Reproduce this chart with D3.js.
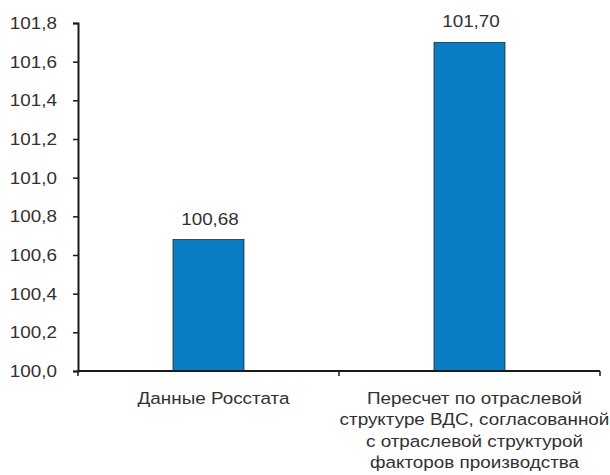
<!DOCTYPE html>
<html>
<head>
<meta charset="utf-8">
<script src="https://cdn.jsdelivr.net/npm/d3@7"></script>
<style>
  html, body { margin: 0; padding: 0; background: #fff; }
  svg { display: block; }
  svg text { font-family: "Liberation Sans", Arial, sans-serif; }
</style>
</head>
<body>
<svg id="chart" width="610" height="475"></svg>
<script>
// Chart data
const categories = [
  ["Данные Росстата"],
  ["Пересчет по отраслевой", "структуре ВДС, согласованной", "с отраслевой структурой", "факторов производства"]
];
const values = [100.68, 101.70];
const valueLabels = ["100,68", "101,70"];
const yTicks = [100.0, 100.2, 100.4, 100.6, 100.8, 101.0, 101.2, 101.4, 101.6, 101.8];

const svg = d3.select("#chart");
const margin = { left: 78, right: 10, top: 23, bottom: 104 };
const width = 610, height = 475;
const textColor = "#333031";
const fontSize = 17;
const stretchX = 1.11;   // slightly widened lettering

// horizontal stretch of a text element about its anchor x
function stretch(sel, ax) {
  sel.attr("transform", `translate(${ax},0) scale(${stretchX},1) translate(${-ax},0)`);
}

const x = d3.scaleBand()
  .domain(d3.range(values.length))
  .range([margin.left, width - margin.right])
  .paddingInner(0)
  .paddingOuter(0);

const y = d3.scaleLinear()
  .domain([100.0, 101.8])
  .range([height - margin.bottom, margin.top]);

const barW = x.bandwidth() * 0.272;
const cx = i => x(i) + x.bandwidth() / 2;

// Bars
svg.append("g").selectAll("rect")
  .data(values)
  .join("rect")
  .attr("x", (d, i) => cx(i) - barW / 2)
  .attr("y", d => y(d))
  .attr("width", barW)
  .attr("height", d => y(100.0) - y(d))
  .attr("fill", "#0a7cc4")
  .attr("stroke", "#2a2a2a")
  .attr("stroke-width", 0.8);

// Value labels
svg.append("g").selectAll("text")
  .data(values)
  .join("text")
  .attr("x", (d, i) => cx(i) + 1.5)
  .attr("y", d => y(d) - 15)
  .attr("text-anchor", "middle")
  .attr("font-size", fontSize)
  .attr("fill", textColor)
  .text((d, i) => valueLabels[i])
  .each(function(d, i) { stretch(d3.select(this), cx(i) + 1.5); });

// Y axis
const yAxis = d3.axisLeft(y)
  .tickValues(yTicks)
  .tickSize(5)
  .tickPadding(16)
  .tickFormat(d => d.toFixed(1).replace(".", ","));

const gy = svg.append("g")
  .attr("transform", `translate(${margin.left},0)`)
  .call(yAxis)
  .attr("font-family", null)
  .attr("font-size", null);
gy.select(".domain").attr("stroke", "#1a1a1a").attr("stroke-width", 2);
gy.selectAll(".tick line").attr("stroke", "#1a1a1a").attr("stroke-width", 1.5);
gy.selectAll(".tick text")
  .attr("font-size", fontSize)
  .attr("fill", textColor)
  .each(function() { stretch(d3.select(this), -21); });

// X axis with ticks at category boundaries
const baseY = y(100.0);
svg.append("line")
  .attr("x1", margin.left).attr("x2", width - margin.right)
  .attr("y1", baseY).attr("y2", baseY)
  .attr("stroke", "#1a1a1a").attr("stroke-width", 2);

const boundaries = d3.range(values.length + 1).map(i =>
  i < values.length ? x(i) : x(values.length - 1) + x.bandwidth());
svg.append("g").selectAll("line")
  .data(boundaries)
  .join("line")
  .attr("x1", d => d).attr("x2", d => d)
  .attr("y1", baseY).attr("y2", baseY + 5)
  .attr("stroke", "#1a1a1a").attr("stroke-width", 1.5);

// Category labels
const catG = svg.append("g").selectAll("text")
  .data(categories)
  .join("text")
  .attr("text-anchor", "middle")
  .attr("font-size", fontSize)
  .attr("fill", textColor);
catG.each(function(lines, i) {
  const lx = cx(i) + 5;
  stretch(d3.select(this), lx);
  d3.select(this).selectAll("tspan")
    .data(lines)
    .join("tspan")
    .attr("x", lx)
    .attr("y", (d, j) => baseY + 33 + j * 21.5)
    .text(d => d);
});
</script>
</body>
</html>
